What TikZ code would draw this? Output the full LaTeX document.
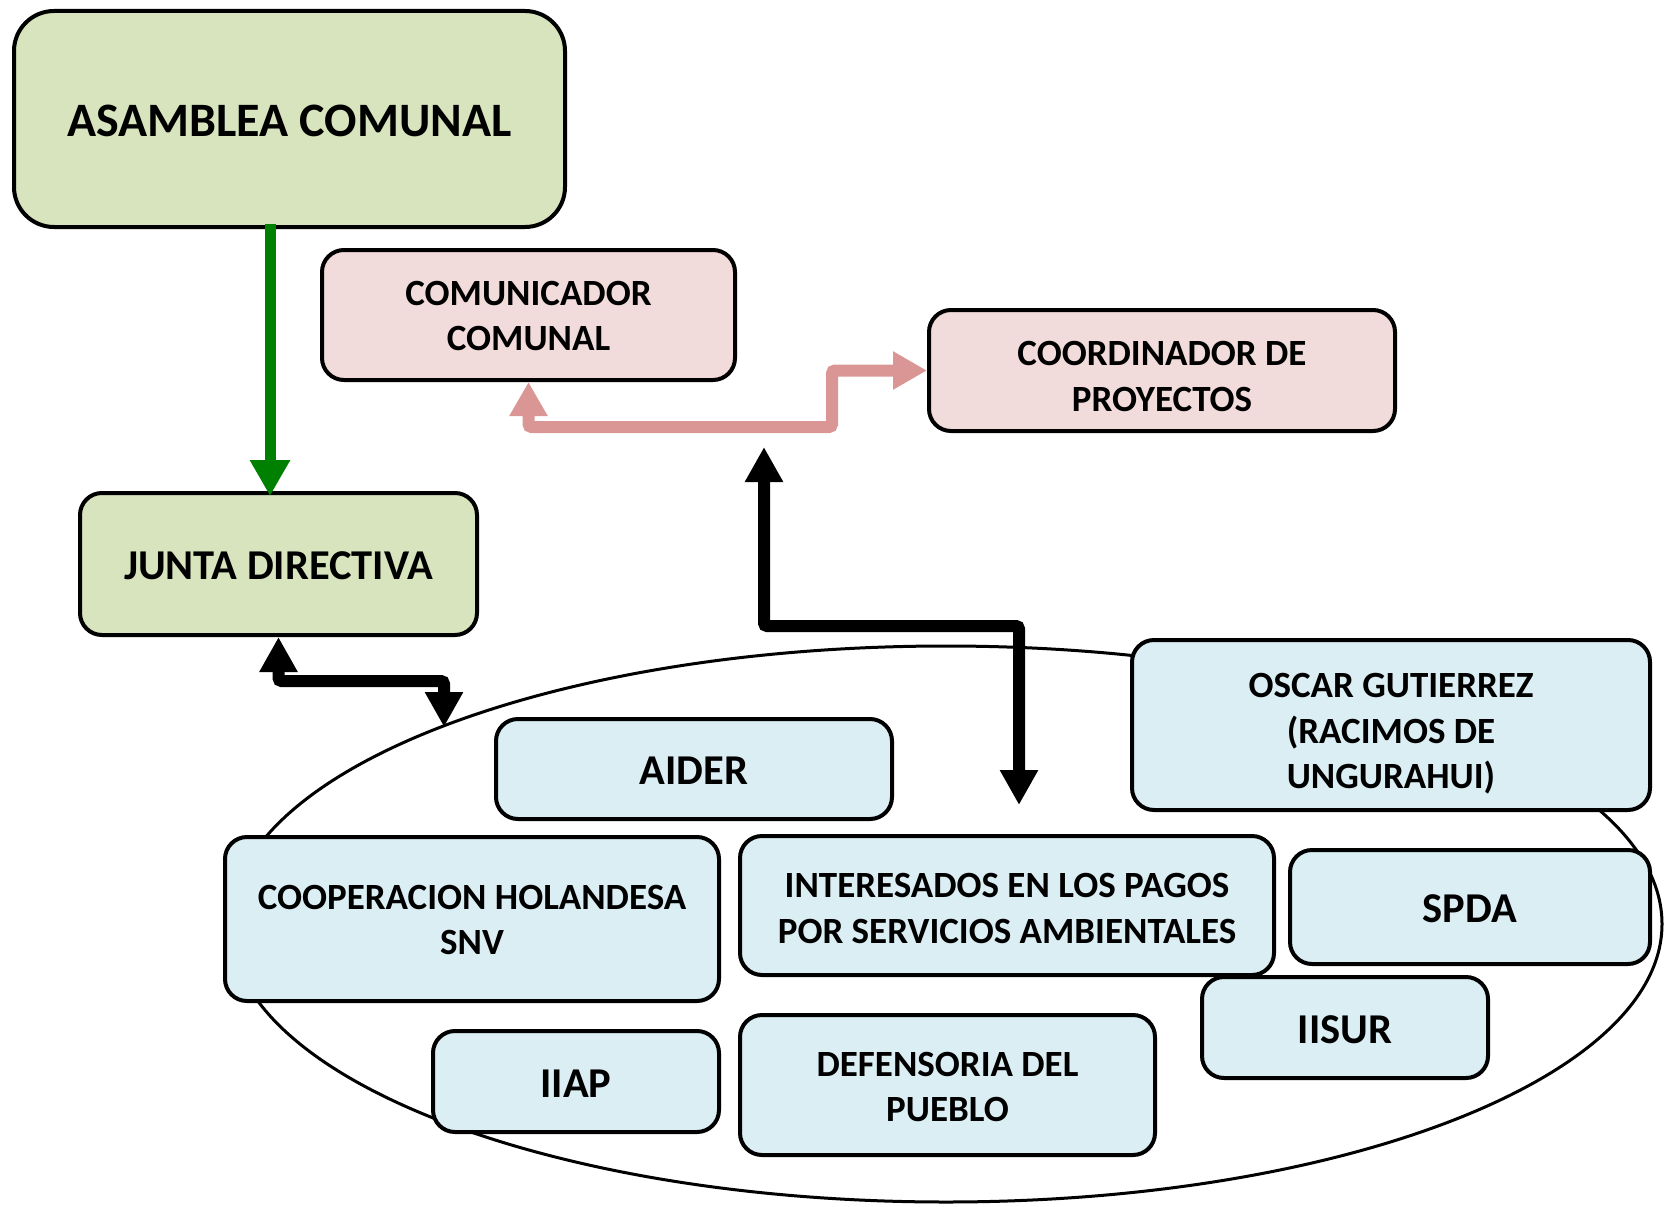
\documentclass[tikz,border=0pt]{standalone}
\usepackage{fontspec}
\setmainfont{Carlito}
\usetikzlibrary{arrows.meta,shapes.geometric}
\definecolor{gfill}{HTML}{D7E4BD}
\definecolor{pfill}{HTML}{F2DCDB}
\definecolor{bfill}{HTML}{DBEEF4}
\definecolor{parrow}{HTML}{DA9694}
\definecolor{garrow}{HTML}{008000}
\newcommand{\mlines}[2][0pt]{\raisebox{#1}[\height][\depth]{\begin{tabular}{@{}c@{}}#2\end{tabular}}}
\newcommand{\sline}[2][-2pt]{\raisebox{#1}[\height][\depth]{#2}}
\tikzset{
  box/.style={draw=black, line width=4pt, rounded corners=22pt, inner sep=0pt, align=center, font=\bfseries},
  gbox/.style={box, fill=gfill},
  pbox/.style={box, fill=pfill},
  bbox/.style={box, fill=bfill},
  bigtxt/.style={font=\fontsize{48}{58}\selectfont\bfseries},
  midtxt/.style={font=\fontsize{42.5}{50}\selectfont\bfseries},
  smltxt/.style={font=\fontsize{37}{45.5}\selectfont\bfseries},
  blkarrow/.style={line width=12pt, draw=black, rounded corners=3pt, {Triangle[width=36pt,length=35pt]}-{Triangle[width=36pt,length=35pt]}},
  pnkarrow/.style={line width=12pt, draw=parrow, rounded corners=3pt, {Triangle[width=36pt,length=34pt]}-{Triangle[width=36pt,length=34pt]}},
  grnarrow/.style={line width=11pt, draw=garrow, -{Triangle[width=38pt,length=36pt]}},
}
\begin{document}
\begin{tikzpicture}[x=1pt,y=-1pt]
\useasboundingbox (0,0) rectangle (1670,1207);
% ellipse
\node[draw=black, line width=3pt, ellipse, minimum width=1432pt, minimum height=556pt, inner sep=0pt] (ell) at (946,924) {};
% boxes
\node[gbox, bigtxt, rounded corners=40pt, minimum width=551pt, minimum height=216pt] (asam) at (289.5,119) {\sline{ASAMBLEA COMUNAL}};
\node[pbox, smltxt, minimum width=413pt, minimum height=130pt] (comu) at (528.5,315) {\mlines[-4pt]{COMUNICADOR\\COMUNAL}};
\node[pbox, smltxt, minimum width=466pt, minimum height=121pt] (coord) at (1162,370.5) {\mlines[-9pt]{COORDINADOR DE\\PROYECTOS}};
\node[gbox, midtxt, minimum width=397pt, minimum height=142pt] (junta) at (278.5,564) {\sline{JUNTA DIRECTIVA}};
\node[bbox, midtxt, minimum width=396pt, minimum height=100pt] (aider) at (694,769) {\sline{AIDER}};
\node[bbox, smltxt, minimum width=518pt, minimum height=170pt] (oscar) at (1391,725) {\mlines[-9pt]{OSCAR GUTIERREZ\\(RACIMOS DE\\UNGURAHUI)}};
\node[bbox, midtxt, minimum width=360pt, minimum height=114pt] (spda) at (1470,907) {\sline{SPDA}};
\node[bbox, midtxt, minimum width=286pt, minimum height=101pt] (iisur) at (1345,1027.5) {\sline{IISUR}};
\node[bbox, smltxt, minimum width=534pt, minimum height=139pt] (inter) at (1007,905.5) {\mlines[-6pt]{INTERESADOS EN LOS PAGOS\\POR SERVICIOS AMBIENTALES}};
\node[bbox, smltxt, minimum width=494pt, minimum height=164pt] (coop) at (472,919) {\mlines[-4pt]{COOPERACION HOLANDESA\\SNV}};
\node[bbox, midtxt, minimum width=286pt, minimum height=101pt] (iiap) at (576,1081.5) {\sline{IIAP}};
\node[bbox, smltxt, minimum width=415pt, minimum height=140pt] (defe) at (947.5,1085) {\mlines[-5pt]{DEFENSORIA DEL\\PUEBLO}};
% coordinates for free ends
\coordinate (btop) at (764,447);
\coordinate (bbot) at (1019,805);
\coordinate (jend) at (444,727);
% connectors
\draw[grnarrow] ([xshift=-19.5pt,yshift=5pt]asam.south) -- ([xshift=-8.5pt,yshift=-5pt]junta.north);
\draw[pnkarrow] (comu.south) |- (832,427) |- (coord.west);
\draw[blkarrow] (btop) |- (1019,626) -- (bbot);
\draw[blkarrow] (junta.south) |- (444,681) -- (jend);
\end{tikzpicture}
\end{document}
